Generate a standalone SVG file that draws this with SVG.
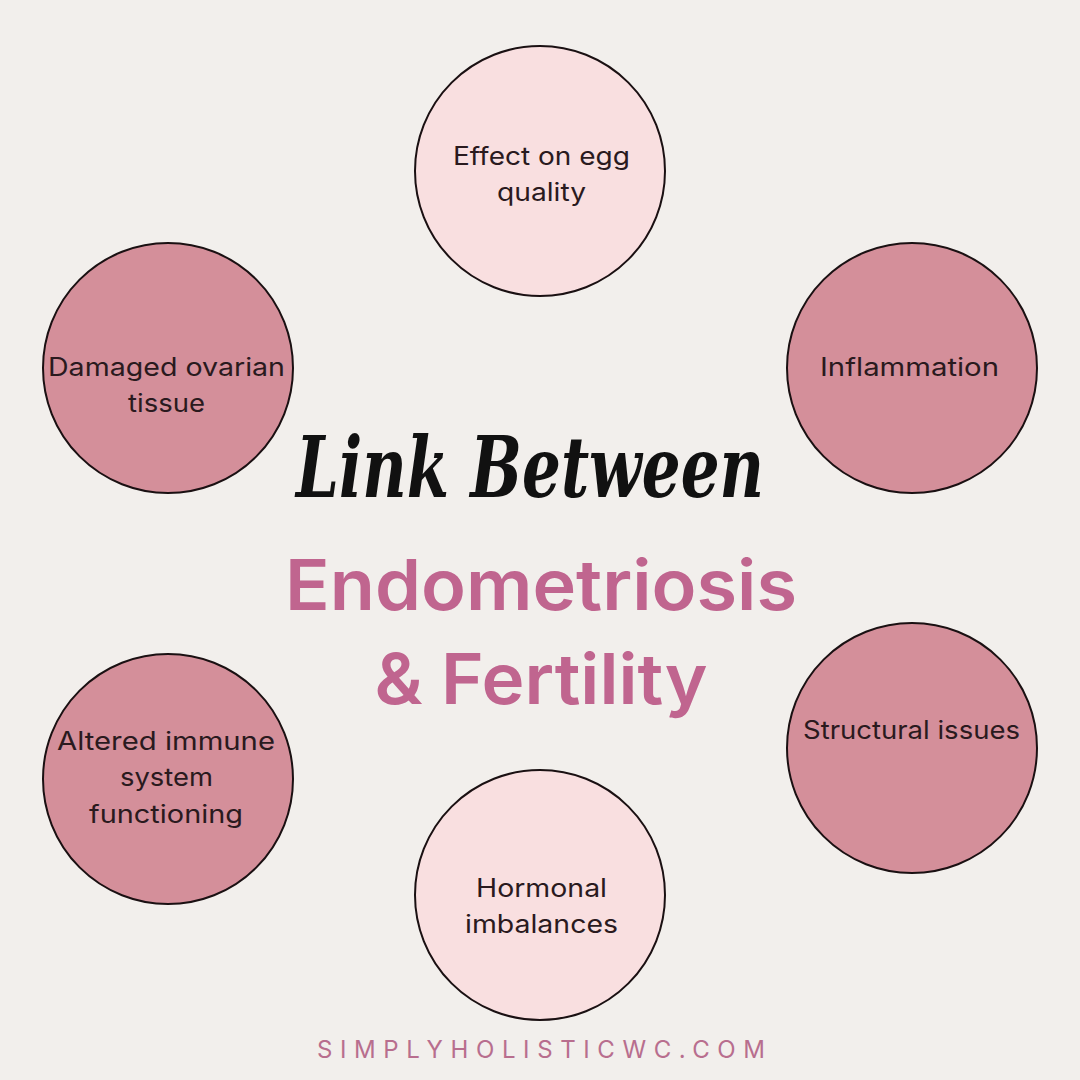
<svg xmlns="http://www.w3.org/2000/svg" width="1080" height="1080" viewBox="0 0 1080 1080">
<style>
.c{stroke:#1a1012;stroke-width:2}
.light{fill:#f9dfe0}
.dark{fill:#d48f9a}
.lbl{font-family:Inter,"Open Sans","DejaVu Sans",sans-serif;font-size:25px;fill:#2a1a1e;text-anchor:middle}
.title{font-family:Inter,"Open Sans",sans-serif;font-weight:600;fill:#c0658f;text-anchor:middle}
</style>
<rect width="1080" height="1080" fill="#f2efec"/>
<g id="connectors"></g>
<g id="n-egg"><circle class="c light" cx="540" cy="171" r="125"/><text class="lbl" x="541.5" y="165" textLength="177" lengthAdjust="spacingAndGlyphs">Effect on egg</text><text class="lbl" x="541.5" y="201" textLength="89" lengthAdjust="spacingAndGlyphs">quality</text></g>
<g id="n-inflammation"><circle class="c dark" cx="912" cy="368" r="125"/><text class="lbl" x="909.5" y="376" textLength="179" lengthAdjust="spacingAndGlyphs">Inflammation</text></g>
<g id="n-ovarian"><circle class="c dark" cx="168" cy="368" r="125"/><text class="lbl" x="166.5" y="376" textLength="237" lengthAdjust="spacingAndGlyphs">Damaged ovarian</text><text class="lbl" x="166.5" y="412" textLength="77" lengthAdjust="spacingAndGlyphs">tissue</text></g>
<g id="n-immune"><circle class="c dark" cx="168" cy="779" r="125"/><text class="lbl" x="166" y="750" textLength="218" lengthAdjust="spacingAndGlyphs">Altered immune</text><text class="lbl" x="166.5" y="786" textLength="93" lengthAdjust="spacingAndGlyphs">system</text><text class="lbl" x="166" y="823" textLength="154" lengthAdjust="spacingAndGlyphs">functioning</text></g>
<g id="n-structural"><circle class="c dark" cx="912" cy="748" r="125"/><text class="lbl" x="911.5" y="739" textLength="217" lengthAdjust="spacingAndGlyphs">Structural issues</text></g>
<g id="n-hormonal"><circle class="c light" cx="540" cy="895" r="125"/><text class="lbl" x="541.5" y="897" textLength="131" lengthAdjust="spacingAndGlyphs">Hormonal</text><text class="lbl" x="541.5" y="933" textLength="153" lengthAdjust="spacingAndGlyphs">imbalances</text></g>
<g id="title">
<text x="530" y="497" font-family="'DejaVu Serif','Liberation Serif',serif" font-style="italic" font-weight="bold" font-size="84" fill="#111" text-anchor="middle" textLength="468" lengthAdjust="spacingAndGlyphs">Link Between</text>
<text class="title" x="541" y="610" font-size="70" textLength="512" lengthAdjust="spacingAndGlyphs">Endometriosis</text>
<text class="title" x="541" y="704" font-size="70" textLength="333" lengthAdjust="spacingAndGlyphs">&amp; Fertility</text>
</g>
<text x="541" y="1058" font-family="Inter,'Open Sans',sans-serif" font-size="24" fill="#b86e8e" text-anchor="middle" textLength="448" lengthAdjust="spacing">SIMPLYHOLISTICWC.COM</text>
</svg>
